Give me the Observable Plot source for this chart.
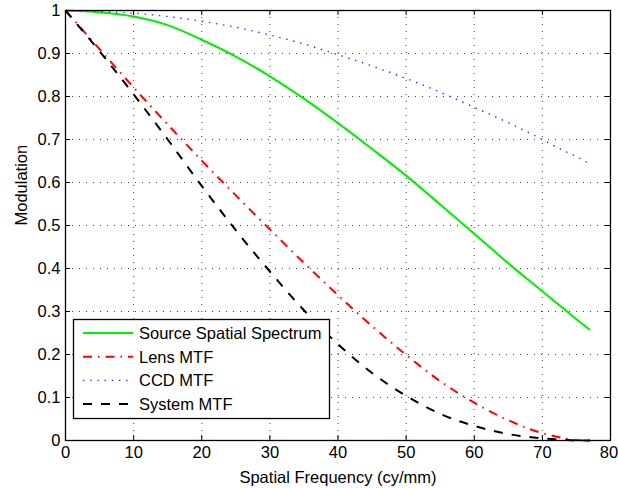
<!DOCTYPE html>
<html>
<head>
<meta charset="utf-8">
<script src="https://cdn.jsdelivr.net/npm/d3@7"></script>
<script src="https://cdn.jsdelivr.net/npm/@observablehq/plot@0.6"></script>
<style>
  html, body { margin: 0; padding: 0; background: #fff; }
  #wrap { position: relative; width: 618px; height: 489px; font-family: "Liberation Sans", Arial, sans-serif; }
  #legend { position: absolute; left: 0; top: 0; pointer-events: none; }
</style>
</head>
<body>
<div id="wrap"></div>
<script>
// Spatial frequency samples (cy/mm)
const freq = [0, 5, 10, 15, 20, 25, 30, 35, 40, 45, 50, 55, 60, 65, 70, 73, 75, 77];
// Modulation values
const sourceSpectrum = [1.000, 0.996, 0.986, 0.966, 0.932, 0.893, 0.847, 0.795, 0.738, 0.678, 0.616, 0.549, 0.481, 0.412, 0.347, 0.308, 0.282, 0.257];
const lensMTF        = [1.000, 0.910, 0.821, 0.735, 0.651, 0.570, 0.491, 0.413, 0.338, 0.266, 0.199, 0.138, 0.088, 0.047, 0.017, 0.006, 0.001, 0.000];
const ccdMTF         = [1.000, 0.998, 0.994, 0.986, 0.975, 0.961, 0.943, 0.922, 0.897, 0.871, 0.842, 0.810, 0.775, 0.739, 0.700, 0.675, 0.660, 0.643];
const systemMTF      = [1.000, 0.905, 0.805, 0.700, 0.592, 0.489, 0.393, 0.303, 0.224, 0.157, 0.104, 0.062, 0.034, 0.015, 0.005, 0.002, 0.000, 0.000];

const seriesNames = ["Source Spatial Spectrum", "Lens MTF", "CCD MTF", "System MTF"];
const xTicks = [0, 10, 20, 30, 40, 50, 60, 70, 80];
const yTicks = [0, 0.1, 0.2, 0.3, 0.4, 0.5, 0.6, 0.7, 0.8, 0.9, 1];
const yTickLabels = ["0", "0.1", "0.2", "0.3", "0.4", "0.5", "0.6", "0.7", "0.8", "0.9", "1"];
const xLabel = "Spatial Frequency (cy/mm)";
const yLabel = "Modulation";

const styles = [
  {stroke: "#00ee00", strokeWidth: 2, dash: null},
  {stroke: "#ff0000", strokeWidth: 2, dash: "9,6,1.5,6"},
  {stroke: "#2a2aff", strokeWidth: 1.4, dash: "1.4,5.8"},
  {stroke: "#000000", strokeWidth: 2, dash: "9,9"}
];
const allSeries = [sourceSpectrum, lensMTF, ccdMTF, systemMTF];
const tables = allSeries.map(vals => freq.map((f, i) => ({f, m: vals[i]})));

const W = 618, H = 489, mL = 65, mR = 8, mT = 10, mB = 49;
const plotH = H - mT - mB, plotW = W - mL - mR;
const tk = 5;
const FS = 16.5;
const gridStyle = {stroke: "#000", strokeOpacity: 0.75, strokeWidth: 1, strokeDasharray: "1,6"};

const chart = Plot.plot({
  width: W, height: H,
  marginLeft: mL, marginRight: mR, marginTop: mT, marginBottom: mB,
  style: {fontFamily: '"Liberation Sans", Arial, sans-serif', fontSize: FS + "px", color: "#000", background: "#fff", overflow: "visible"},
  x: {domain: [0, 80]},
  y: {domain: [0, 1]},
  marks: [
    Plot.gridX(xTicks.slice(1, -1), gridStyle),
    Plot.gridY(yTicks.slice(1, -1), gridStyle),
    ...tables.map((t, i) => Plot.line(t, {
      x: "f", y: "m", curve: "monotone-x",
      stroke: styles[i].stroke, strokeWidth: styles[i].strokeWidth,
      strokeDasharray: styles[i].dash, strokeLinecap: "butt", strokeLinejoin: "round"
    })),
    // inward tick marks on all four sides
    Plot.tickX(xTicks, {x: d => d, insetTop: plotH - tk, stroke: "#000"}),
    Plot.tickX(xTicks, {x: d => d, insetBottom: plotH - tk, stroke: "#000"}),
    Plot.tickY(yTicks, {y: d => d, insetRight: plotW - tk, stroke: "#000"}),
    Plot.tickY(yTicks, {y: d => d, insetLeft: plotW - tk, stroke: "#000"}),
    Plot.frame({stroke: "#000", strokeWidth: 1.3}),
    Plot.axisX({ticks: xTicks.slice(0, -1), tickSize: 0, tickPadding: 6, tickFormat: d => String(d), label: null}),
    Plot.axisX({ticks: xTicks.slice(-1), tickSize: 0, tickPadding: 6, dx: -1.5, tickFormat: d => String(d), label: null}),
    Plot.axisY({ticks: yTicks, tickSize: 0, tickPadding: 5, tickFormat: d => yTickLabels[yTicks.indexOf(d)], label: null}),
    Plot.text([xLabel], {frameAnchor: "bottom", dy: 42, text: d => d, fontSize: FS}),
    Plot.text([yLabel], {frameAnchor: "left", dx: -44, rotate: -90, text: d => d, fontSize: FS})
  ]
});
const wrap = document.getElementById("wrap");
wrap.appendChild(chart);

// Legend box inside the plot area
const lg = d3.select(wrap).append("svg").attr("id", "legend").attr("width", W).attr("height", H);
const bx = 73, by = 319, bw = 256, bh = 99;
lg.append("rect").attr("x", bx + 0.5).attr("y", by + 0.5).attr("width", bw).attr("height", bh)
  .attr("fill", "#fff").attr("stroke", "#000").attr("stroke-width", 1.3);
seriesNames.forEach((name, i) => {
  const cy = by + 14 + i * 23.7;
  lg.append("line").attr("x1", bx + 10).attr("x2", bx + 60).attr("y1", cy).attr("y2", cy)
    .attr("stroke", styles[i].stroke).attr("stroke-width", styles[i].strokeWidth)
    .attr("stroke-dasharray", styles[i].dash);
  lg.append("text").attr("x", bx + 66).attr("y", cy).attr("dy", "0.36em")
    .attr("font-size", FS).attr("font-family", '"Liberation Sans", Arial, sans-serif').text(name);
});
</script>
</body>
</html>
